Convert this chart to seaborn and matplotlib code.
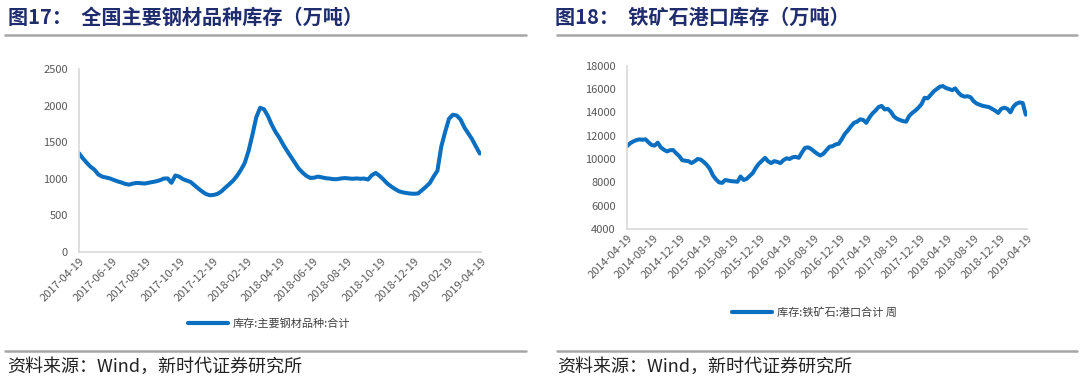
import pandas as pd
import matplotlib.pyplot as plt
from matplotlib.lines import Line2D
import seaborn as sns

# weekly steel inventory (10k tonnes), from 2017-04-19
steel_values = [1350, 1280, 1220, 1165, 1125, 1060, 1030, 1018, 1005, 985,
                965, 950, 930, 920, 935, 944, 940, 935, 945, 955,
                965, 980, 1003, 1005, 945, 1045, 1030, 995, 975, 955,
                910, 865, 825, 790, 775, 780, 795, 830, 880, 925,
                975, 1040, 1120, 1215, 1380, 1600, 1840, 1970, 1950, 1860,
                1740, 1640, 1560, 1465, 1380, 1300, 1220, 1140, 1085, 1040,
                1012, 1015, 1030, 1020, 1008, 1003, 995, 995, 1005, 1010,
                1005, 1000, 1005, 1000, 1003, 990, 1050, 1080, 1040, 990,
                935, 895, 860, 830, 815, 805, 798, 795, 800, 845,
                890, 940, 1030, 1110, 1440, 1640, 1820, 1875, 1865, 1810,
                1700, 1620, 1540, 1440, 1345]

# biweekly iron ore port inventory (10k tonnes), from 2014-04-19
ore_values = [11100, 11350, 11500, 11620, 11680, 11650, 11690, 11430, 11200, 11150,
              11400, 11000, 10800, 10650, 10750, 10770, 10500, 10250, 9900, 9850,
              9820, 9650, 9800, 10000, 9950, 9750, 9500, 9150, 8600, 8250,
              8000, 7950, 8200, 8150, 8100, 8080, 8050, 8500, 8200, 8300,
              8550, 8800, 9250, 9600, 9850, 10100, 9800, 9650, 9820, 9750,
              9650, 9900, 10060, 10000, 10150, 10180, 10100, 10550, 10950, 11000,
              10870, 10650, 10450, 10300, 10450, 10750, 11050, 11100, 11250, 11300,
              11700, 12150, 12450, 12800, 13100, 13200, 13400, 13350, 13100, 13550,
              13900, 14150, 14450, 14550, 14250, 14300, 14050, 13650, 13450, 13340,
              13250, 13200, 13700, 13950, 14150, 14400, 14700, 15250, 15200, 15500,
              15800, 16000, 16200, 16250, 16080, 16000, 15900, 16050, 15700, 15450,
              15350, 15380, 15300, 14950, 14750, 14650, 14550, 14500, 14450, 14300,
              14150, 13950, 14300, 14400, 14300, 14000, 14500, 14750, 14850, 14800,
              13800]

steel_ticks = ['2017-04-19', '2017-06-19', '2017-08-19', '2017-10-19', '2017-12-19',
               '2018-02-19', '2018-04-19', '2018-06-19', '2018-08-19', '2018-10-19',
               '2018-12-19', '2019-02-19', '2019-04-19']
ore_ticks = ['2014-04-19', '2014-08-19', '2014-12-19', '2015-04-19', '2015-08-19',
             '2015-12-19', '2016-04-19', '2016-08-19', '2016-12-19', '2017-04-19',
             '2017-08-19', '2017-12-19', '2018-04-19', '2018-08-19', '2018-12-19',
             '2019-04-19']

sns.set_theme(style='white')
plt.rcParams['font.family'] = ['Noto Sans CJK SC', 'DejaVu Sans']

blue = '#0b6fc1'
navy = '#1f2d6e'
gray = '#a6a6a6'

fig = plt.figure(figsize=(10.8, 3.85), dpi=100)
ax1 = fig.add_axes([0.0731, 0.3455, 0.3722, 0.4753])
ax2 = fig.add_axes([0.5806, 0.4052, 0.3704, 0.4242])

steel = pd.DataFrame({'date': pd.date_range('2017-04-19', periods=len(steel_values), freq='7D'),
                      'value': steel_values})
ore = pd.DataFrame({'date': pd.date_range('2014-04-19', periods=len(ore_values), freq='14D'),
                    'value': ore_values})

sns.lineplot(data=steel, x='date', y='value', ax=ax1, color=blue, linewidth=2.9,
             label='库存:主要钢材品种:合计')
sns.lineplot(data=ore, x='date', y='value', ax=ax2, color=blue, linewidth=2.9,
             label='库存:铁矿石:港口合计 周')


def style(ax, ticks, lo, hi, step):
    ax.set_xlim(pd.Timestamp(ticks[0]), pd.Timestamp(ticks[-1]))
    ax.set_ylim(lo, hi)
    ax.set_yticks(range(lo, hi + 1, step))
    ax.set_xticks(pd.to_datetime(ticks))
    ax.set_xticklabels(ticks, rotation=45, ha='right', rotation_mode='anchor')
    ax.tick_params(axis='both', length=0, labelsize=8, labelcolor='#595959')
    ax.tick_params(axis='y', pad=8)
    ax.tick_params(axis='x', pad=3)
    ax.set_xlabel('')
    ax.set_ylabel('')
    for s in ['top', 'right']:
        ax.spines[s].set_visible(False)
    for s in ['left', 'bottom']:
        ax.spines[s].set_color('#d9d9d9')
        ax.spines[s].set_linewidth(1.2)


style(ax1, steel_ticks, 0, 2500, 500)
style(ax2, ore_ticks, 4000, 18000, 2000)

for ax, cx, cy in [(ax1, 0.249, 0.161), (ax2, 0.754, 0.187)]:
    leg = ax.legend(loc='center', bbox_to_anchor=(cx, cy), bbox_transform=fig.transFigure,
                    frameon=False, fontsize=8, handlelength=3.6, handletextpad=0.4)
    for t in leg.get_texts():
        t.set_color('#404040')
    leg.get_lines()[0].set_linewidth(3)

# titles, rules and source notes
fig.text(8 / 1080, 1 - 17 / 385, '图17：  全国主要钢材品种库存（万吨）', fontsize=14.5,
         fontweight='bold', color=navy, va='center', ha='left')
fig.text(555 / 1080, 1 - 17 / 385, '图18：  铁矿石港口库存（万吨）', fontsize=14.5,
         fontweight='bold', color=navy, va='center', ha='left')

for x0, x1 in [(5, 526), (557, 1077)]:
    for y in [35, 351]:
        fig.add_artist(Line2D([x0 / 1080, x1 / 1080], [1 - y / 385] * 2, color=gray, lw=1.8))

fig.text(7 / 1080, 1 - 367 / 385, '资料来源：Wind，新时代证券研究所', fontsize=13,
         color='#222222', va='center', ha='left')
fig.text(557 / 1080, 1 - 367 / 385, '资料来源：Wind，新时代证券研究所', fontsize=13,
         color='#222222', va='center', ha='left')

fig.savefig('out.png', dpi=100)
